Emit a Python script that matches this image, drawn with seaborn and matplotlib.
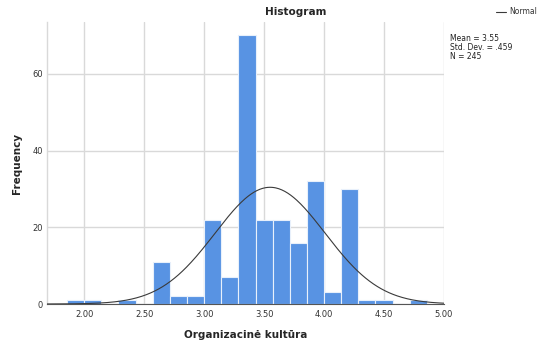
import numpy as np
import pandas as pd
import matplotlib
matplotlib.use("Agg")
import matplotlib.pyplot as plt
import seaborn as sns

# Histogram of "Organizacinė kultūra" scores (bins of width 1/7)
bin_starts = [13, 14, 15, 16, 17, 18, 19, 20, 21, 22, 23, 24, 25, 26, 27, 28, 29, 30, 31, 32, 33]  # in sevenths
counts = [1, 1, 0, 1, 0, 11, 2, 2, 22, 7, 70, 22, 22, 16, 32, 3, 30, 1, 1, 0, 1]
mean_val = 3.55
std_val = 0.459
n_total = 245
x_ticks = [2.0, 2.5, 3.0, 3.5, 4.0, 4.5, 5.0]
y_ticks = [0, 20, 40, 60]

edges = [b / 7.0 for b in bin_starts + [bin_starts[-1] + 1]]
centers = [(edges[i] + edges[i + 1]) / 2 for i in range(len(counts))]
df = pd.DataFrame({"score": centers, "count": counts})
bw = 1 / 7.0

sns.set_theme(style="white")
plt.rcParams["font.family"] = ["DejaVu Sans"]

fig = plt.figure(figsize=(5.41, 3.44), dpi=100)
ax = fig.add_axes([47 / 541, 40 / 344, (444 - 47) / 541, (304 - 22) / 344])

sns.histplot(data=df, x="score", weights="count", bins=edges, ax=ax,
             color="#5893e3", alpha=1.0, edgecolor="#e8f0fb", linewidth=0.8,
             zorder=2)

xs = np.linspace(1.69, 5.0, 400)
pdf = n_total * bw * np.exp(-0.5 * ((xs - mean_val) / std_val) ** 2) / (std_val * np.sqrt(2 * np.pi))
sns.lineplot(x=xs, y=pdf, ax=ax, color="#3a3a3a", linewidth=0.8, zorder=3)

ax.set_xlim(1.69, 5.0)
ax.set_ylim(0, 73.5)
ax.set_xticks(x_ticks)
ax.set_xticklabels([f"{t:.2f}" for t in x_ticks], fontsize=6, color="#333333")
ax.set_yticks(y_ticks)
ax.set_yticklabels([str(t) for t in y_ticks], fontsize=6, color="#333333")
ax.tick_params(axis="x", length=0, pad=4)
ax.tick_params(axis="y", length=0, pad=3)
ax.grid(True, color="#d9d9d9", linewidth=1.0, zorder=0)
ax.set_axisbelow(True)
for s in ["top", "right"]:
    ax.spines[s].set_visible(False)
ax.spines["left"].set_color("#d9d9d9")
ax.spines["left"].set_linewidth(1.0)
ax.spines["bottom"].set_color("#555555")
ax.spines["bottom"].set_linewidth(0.8)

ax.set_xlabel("Organizacinė kultūra", fontsize=7.5, fontweight="bold", labelpad=8)
ax.set_ylabel("Frequency", fontsize=7.5, fontweight="bold", labelpad=7)

fig.text(296 / 541, 1 - 12 / 344, "Histogram", ha="center", va="center",
         fontsize=7.6, fontweight="bold")

# legend entry for the normal curve
fig.add_artist(plt.Line2D([496 / 541, 506 / 541], [1 - 12 / 344, 1 - 12 / 344],
                          color="#3a3a3a", linewidth=0.8))
fig.text(509 / 541, 1 - 12 / 344, "Normal", ha="left", va="center", fontsize=5.5, color="#333333")

fig.text(450 / 541, 1 - 34 / 344,
         f"Mean = {mean_val:.2f}\nStd. Dev. = {str(round(std_val, 3)).lstrip('0')}\nN = {n_total}",
         ha="left", va="top", fontsize=5.5, color="#222222", linespacing=1.0)

fig.savefig("out.png", dpi=100)
